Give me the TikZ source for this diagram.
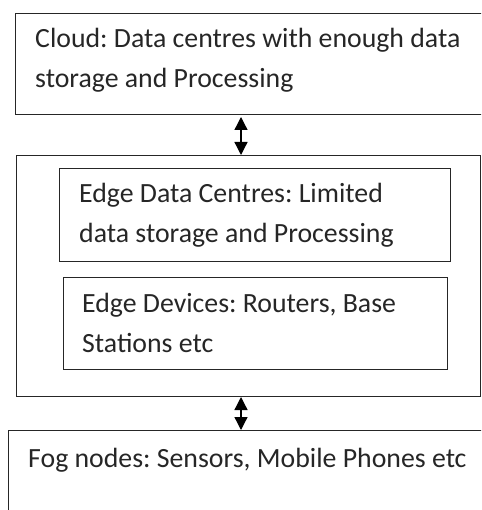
\documentclass[tikz,border=0pt]{standalone}
\usepackage{fontspec}
\setmainfont{Carlito}
\frenchspacing
\usetikzlibrary{arrows.meta}
\begin{document}
\begin{tikzpicture}[x=1pt,y=-1pt,
  boxstyle/.style={draw=black!85, line width=1.1pt, inner sep=0pt, anchor=north west},
  txt/.style={anchor=base west, inner sep=0pt, text=black!85, font=\fontsize{27.8pt}{38pt}\selectfont},
  biarrow/.style={{Triangle[length=13pt,width=13pt]}-{Triangle[length=13pt,width=13pt]}, line width=1.3pt, draw=black}]
\useasboundingbox (0,0) rectangle (481,510);
\clip (0,0) rectangle (481,510);
% boxes
\node[boxstyle, minimum width=480pt, minimum height=101pt] (cloud) at (15,13) {};
\node[boxstyle, minimum width=464pt, minimum height=241pt] (edge) at (16,155) {};
\node[boxstyle, minimum width=391pt, minimum height=93pt] (edc) at (59,168) {};
\node[boxstyle, minimum width=384pt, minimum height=92pt] (edev) at (63,277) {};
\node[boxstyle, minimum width=490pt, minimum height=100pt] (fog) at (8,430) {};
% texts
\node[txt] (t1a) at (35,48) {Cloud: Data centres with enough data};
\node[txt] (t1b) at (35,88) {storage and Processing};
\node[txt] (t2a) at (79,203) {Edge Data Centres: Limited};
\node[txt] (t2b) at (79,242) {data storage and Processing};
\node[txt] (t3a) at (82,312) {Edge Devices: Routers, Base};
\node[txt] (t3b) at (82,352) {Stations etc};
\node[txt] (t4) at (28,467) {Fog nodes: Sensors, Mobile Phones etc};
% arrows
\coordinate (a1) at (241,117);
\draw[biarrow] (a1) -- (a1 |- edge.north);
\coordinate (a2) at (241,397);
\draw[biarrow] (a2) -- (a2 |- fog.north);
\end{tikzpicture}
\end{document}
